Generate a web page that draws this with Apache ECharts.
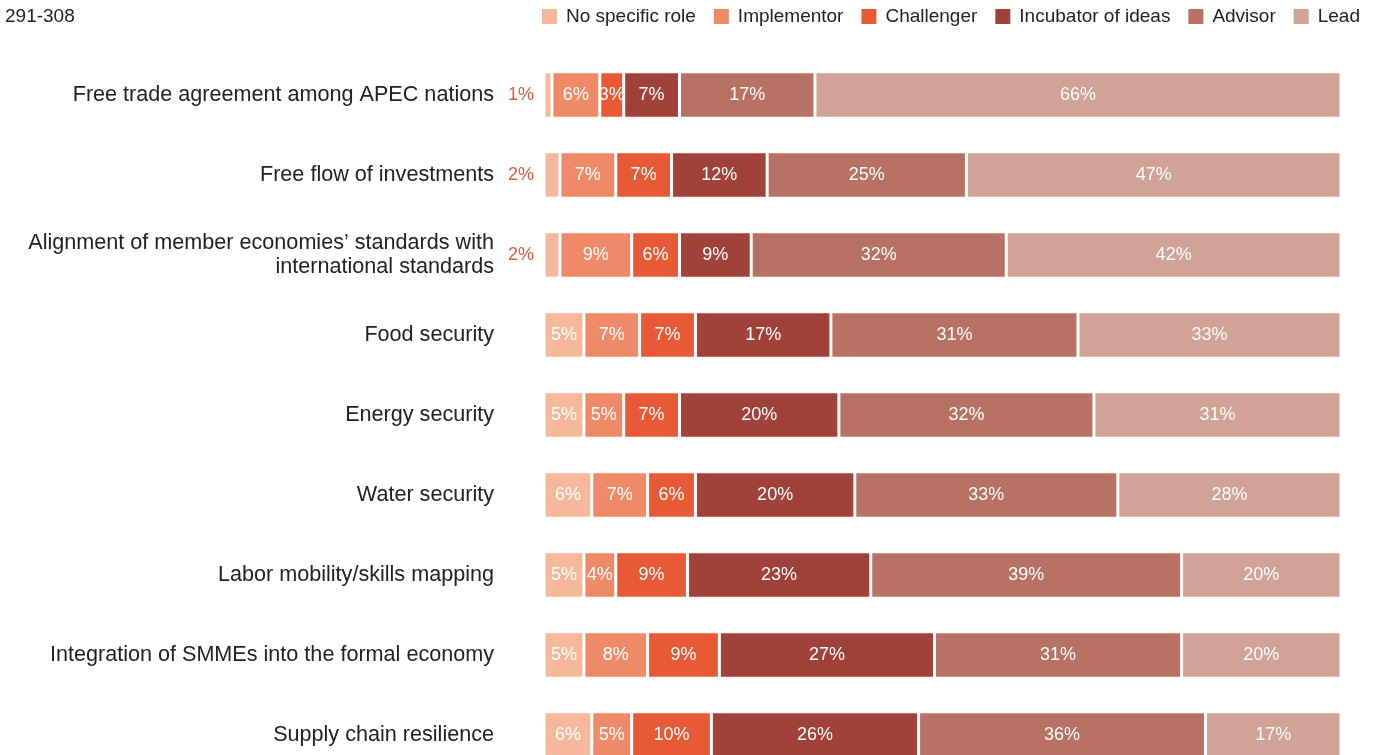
<!DOCTYPE html>
<html>
<head>
<meta charset="utf-8">
<script src="https://cdn.jsdelivr.net/npm/echarts@6/dist/echarts.min.js"></script>
<style>
  html, body { margin: 0; padding: 0; background: #fff; }
  #chart { width: 1378px; height: 755px; }
</style>
</head>
<body>
<div id="chart"></div>
<script>
// Survey topics (top to bottom) and role shares in percent
const categories = [
  'Free trade agreement among APEC nations',
  'Free flow of investments',
  'Alignment of member economies\u2019 standards with\ninternational standards',
  'Food security',
  'Energy security',
  'Water security',
  'Labor mobility/skills mapping',
  'Integration of SMMEs into the formal economy',
  'Supply chain resilience'
];
const noSpecificRole = [1, 2, 2, 5, 5, 6, 5, 5, 6];
const implementor    = [6, 7, 9, 7, 5, 7, 4, 8, 5];
const challenger     = [3, 7, 6, 7, 7, 6, 9, 9, 10];
const incubator      = [7, 12, 9, 17, 20, 20, 23, 27, 26];
const advisor        = [17, 25, 32, 31, 32, 33, 39, 31, 36];
const lead           = [66, 47, 42, 33, 31, 28, 20, 20, 17];
const sampleNote = '291-308';

const seriesDefs = [
  { name: 'No specific role',   data: noSpecificRole, color: '#F6B89C' },
  { name: 'Implementor',        data: implementor,    color: '#EE8A67' },
  { name: 'Challenger',         data: challenger,     color: '#E85A36' },
  { name: 'Incubator of ideas', data: incubator,      color: '#A0423A' },
  { name: 'Advisor',            data: advisor,        color: '#B77263' },
  { name: 'Lead',               data: lead,           color: '#D1A397' }
];

const FONT = 'Liberation Sans, Arial, Helvetica, sans-serif';

const series = seriesDefs.map(function (s, si) {
  return {
    name: s.name,
    type: 'bar',
    stack: 'total',
    barWidth: 46.5,
    itemStyle: { color: s.color, borderColor: '#fff', borderWidth: 1.5 },
    label: {
      show: true,
      position: 'inside',
      color: '#fff',
      fontFamily: FONT,
      fontSize: 18,
      formatter: '{c}%'
    },
    emphasis: { disabled: true },
    data: s.data.map(function (v) {
      // very thin segments carry their label outside, to the left
      if (si === 0 && v < 3) {
        return {
          value: v,
          label: { position: 'left', distance: 10, color: '#E85A36' }
        };
      }
      return v;
    })
  };
});

const chart = echarts.init(document.getElementById('chart'), null, { renderer: 'canvas' });
chart.setOption({
  animation: false,
  backgroundColor: '#fff',
  title: {
    text: sampleNote,
    left: 5, top: 7, padding: 0,
    textStyle: { fontFamily: FONT, fontSize: 19, fontWeight: 'normal', color: '#222' }
  },
  legend: {
    right: 18, top: 7, padding: 0,
    itemWidth: 17, itemHeight: 17,
    itemGap: 16,
    icon: 'rect',
    textStyle: { fontFamily: FONT, fontSize: 19, color: '#222', padding: [0, 0, 0, 3] },
    data: seriesDefs.map(function (s) { return s.name; })
  },
  // the last row runs past the bottom edge of the canvas
  grid: { left: 544, right: 37, top: 55, bottom: -20, outerBoundsMode: 'none' },
  xAxis: {
    type: 'value', min: 0, max: 100, show: false
  },
  yAxis: {
    type: 'category',
    inverse: true,
    data: categories,
    axisLine: { show: false },
    axisTick: { show: false },
    axisLabel: {
      margin: 50,
      fontFamily: FONT,
      fontSize: 21.6,
      color: '#222',
      lineHeight: 24,
      align: 'right'
    }
  },
  series: series
});
</script>
</body>
</html>
